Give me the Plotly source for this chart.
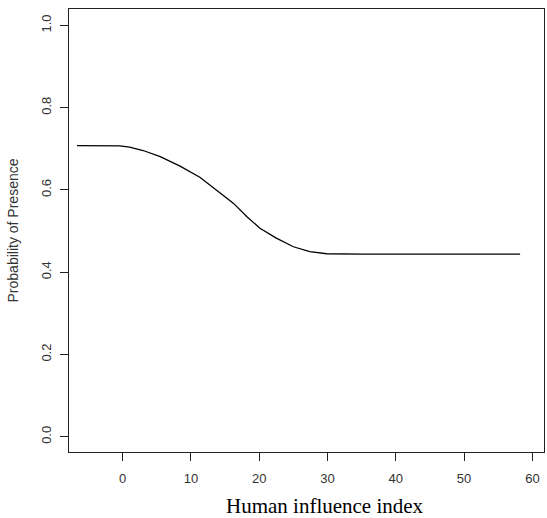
import plotly.graph_objects as go

# Data
human_influence = [-6.7, -0.4, 1.0, 3.0, 5.5, 8.4, 11.3, 13.8, 16.2, 18.2, 20.1, 22.5, 25.0, 27.4, 29.9, 35.0, 45.0, 58.2]
prob_presence = [0.708, 0.707, 0.704, 0.696, 0.681, 0.658, 0.631, 0.599, 0.568, 0.535, 0.507, 0.483, 0.462, 0.450, 0.445, 0.444, 0.444, 0.444]

x_ticks = [0, 10, 20, 30, 40, 50, 60]
y_ticks = [0.0, 0.2, 0.4, 0.6, 0.8, 1.0]
y_tick_text = ["0.0", "0.2", "0.4", "0.6", "0.8", "1.0"]

fig = go.Figure()
fig.add_trace(go.Scatter(
    x=human_influence, y=prob_presence, mode="lines",
    line=dict(color="black", width=1.3, shape="linear"),
    hoverinfo="skip", showlegend=False,
))

axis_common = dict(
    showline=True, linecolor="#222", linewidth=1.3, mirror=True,
    ticks="outside", ticklen=8, tickwidth=1, tickcolor="#222",
    showgrid=False, zeroline=False,
    tickfont=dict(family="Liberation Sans, Arial", size=13, color="#333"),
)

fig.update_layout(
    width=547, height=518,
    margin=dict(l=69, r=3, t=9, b=66),
    paper_bgcolor="white", plot_bgcolor="white",
    xaxis=dict(range=[-7.86, 61.7], tickvals=x_ticks, ticktext=[str(v) for v in x_ticks],
               ticklabelstandoff=6, **axis_common),
    yaxis=dict(range=[-0.037, 1.04], tickvals=y_ticks, ticktext=y_tick_text, tickangle=-90,
               ticklabelstandoff=4,
               title=dict(text="Probability of Presence", standoff=16,
                          font=dict(family="Liberation Sans, Arial", size=14, color="#333")),
               **axis_common),
    annotations=[dict(
        text="Human influence index", xref="paper", yref="paper",
        x=(325 - 69) / 475, y=-(506 - 452) / 443, xanchor="center", yanchor="middle",
        showarrow=False, font=dict(family="Liberation Serif, Times New Roman", size=21, color="black"),
    )],
)

fig.write_html("out.html")
